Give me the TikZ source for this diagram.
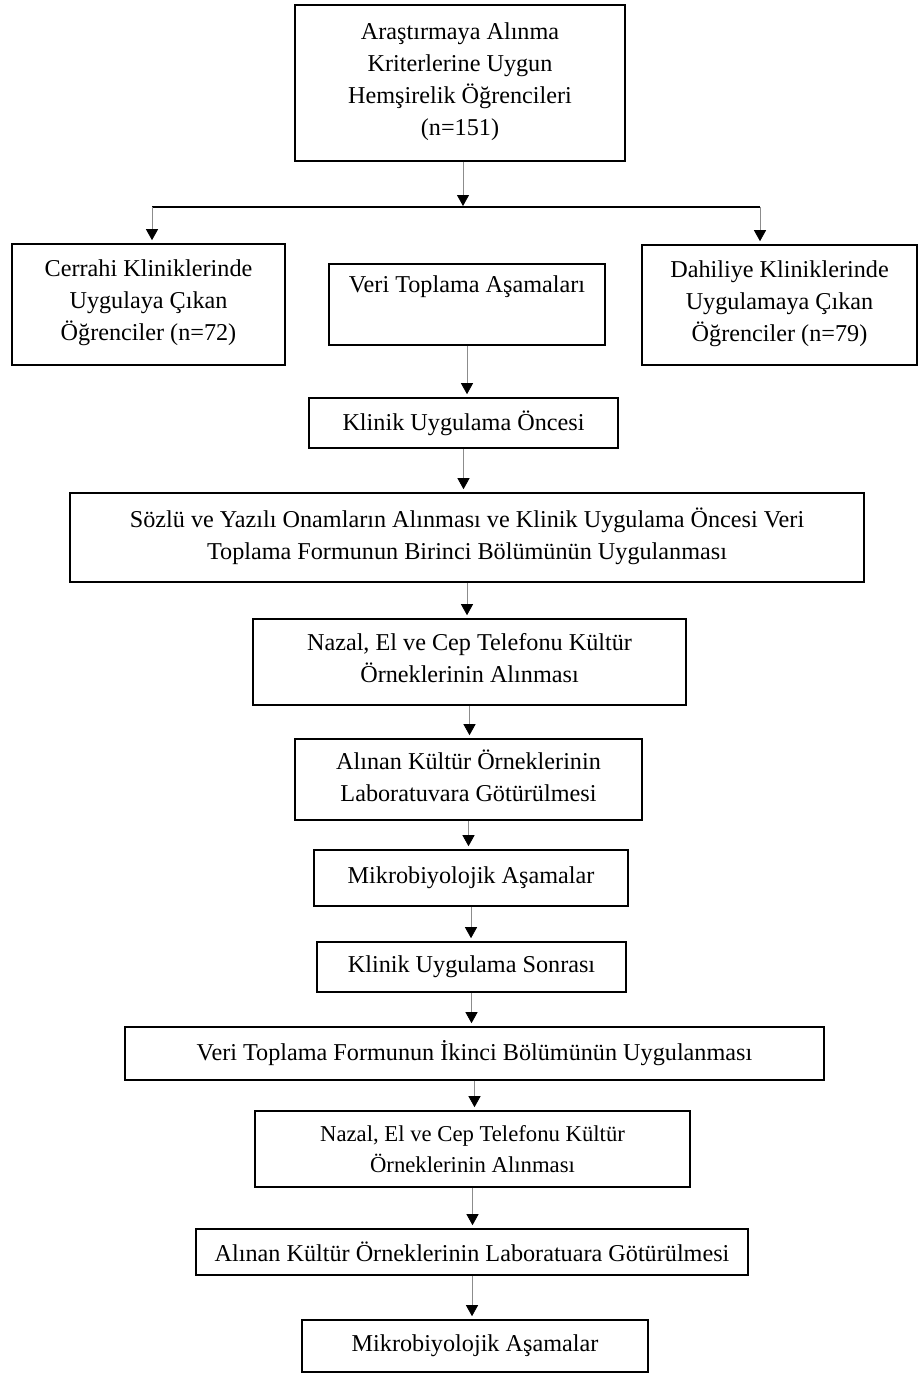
\documentclass[tikz,border=0pt]{standalone}
\usepackage{fontspec}
\setmainfont{Liberation Serif}
\usetikzlibrary{arrows.meta,positioning}

\begin{document}
\begin{tikzpicture}[%
    x=1pt, y=-1pt,
    flowbox/.style={
        draw,
        rectangle,
        line width=1.6pt,
        align=center,
        inner sep=0pt,
        font=\fontsize{24.2}{32}\selectfont
        },
    arr/.style={%
        -{Triangle[width=12pt,length=11pt,color=black]},
        black!45,
        line width=0.8pt,
        shorten >=3pt},
]

\useasboundingbox (0,0) rectangle (918,1374);

\node[flowbox, minimum width=330, minimum height=156] (top) at (460,83)
    {Araştırmaya Alınma\\Kriterlerine Uygun\\Hemşirelik Öğrencileri\\(n=151)\\[-24pt]};
\node[flowbox, minimum width=273, minimum height=121] (cerrahi) at (148.5,304.5)
    {Cerrahi Kliniklerinde\\Uygulaya Çıkan\\Öğrenciler (n=72)\\[-24pt]};
\node[flowbox, minimum width=276, minimum height=81] (veri) at (467,304.5)
    {Veri Toplama Aşamaları\\\strut};
\node[flowbox, minimum width=275, minimum height=120] (dahiliye) at (779.5,305)
    {Dahiliye Kliniklerinde\\Uygulamaya Çıkan\\Öğrenciler (n=79)\\[-24pt]};
\node[flowbox, minimum width=309, minimum height=50] (oncesi) at (463.5,423)
    {Klinik Uygulama Öncesi};
\node[flowbox, minimum width=794, minimum height=89] (onam) at (467,537.5)
    {Sözlü ve Yazılı Onamların Alınması ve Klinik Uygulama Öncesi Veri\\Toplama Formunun Birinci Bölümünün Uygulanması\\[-24pt]};
\node[flowbox, minimum width=433, minimum height=86] (kultura) at (469.5,662)
    {Nazal, El ve Cep Telefonu Kültür\\Örneklerinin Alınması\\[-24pt]};
\node[flowbox, minimum width=347, minimum height=81] (laba) at (468.5,779.5)
    {Alınan Kültür Örneklerinin\\Laboratuvara Götürülmesi\\[-24pt]};
\node[flowbox, minimum width=314, minimum height=56] (mikroa) at (471,878)
    {Mikrobiyolojik Aşamalar};
\node[flowbox, minimum width=309, minimum height=50] (sonrasi) at (471.5,967)
    {Klinik Uygulama Sonrası};
\node[flowbox, minimum width=699, minimum height=53] (ikinci) at (474.5,1053.5)
    {Veri Toplama Formunun İkinci Bölümünün Uygulanması};
\node[flowbox, minimum width=435, minimum height=76, font=\fontsize{22.7}{31}\selectfont] (kulturb) at (472.5,1149)
    {Nazal, El ve Cep Telefonu Kültür\\Örneklerinin Alınması};
\node[flowbox, minimum width=552, minimum height=46] (labb) at (472,1252)
    {Alınan Kültür Örneklerinin Laboratuara Götürülmesi};
\node[flowbox, minimum width=346, minimum height=52] (mikrob) at (475,1346)
    {Mikrobiyolojik Aşamalar};

% split under the first box
\coordinate (bar) at (463,207);
\coordinate (barl) at (152,207);
\coordinate (barr) at (760,207);
\draw[arr, shorten >=1pt] (top.south -| bar) -- (bar);
\draw[line width=2pt] (barl) -- (barr);
\draw[arr] (barl) -- (barl |- cerrahi.north);
\draw[arr] (barr) -- (barr |- dahiliye.north);

\foreach \a/\b in {veri/oncesi, oncesi/onam, onam/kultura, kultura/laba,
                   laba/mikroa, mikroa/sonrasi, sonrasi/ikinci, ikinci/kulturb,
                   kulturb/labb, labb/mikrob}
    \draw[arr] (\a.south) -- (\a.south |- \b.north);
\end{tikzpicture}
\end{document}
